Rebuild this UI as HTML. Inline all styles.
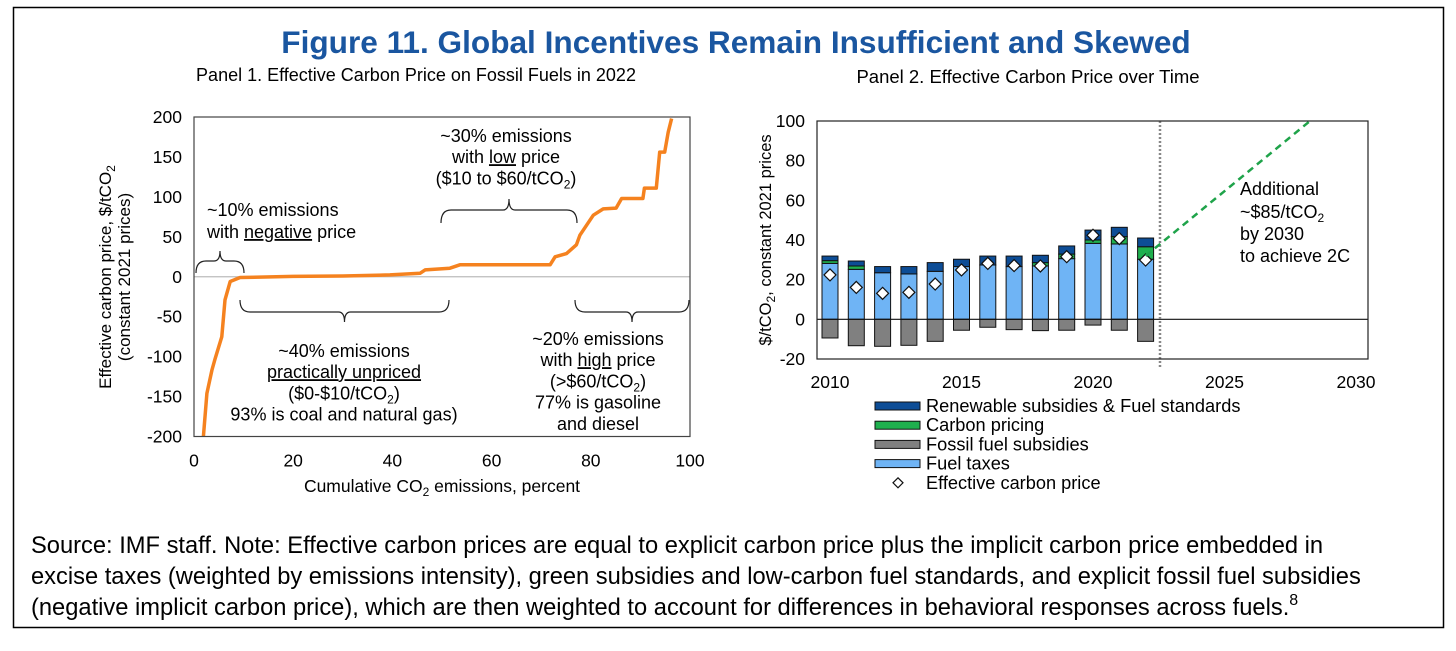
<!DOCTYPE html>
<html><head><meta charset="utf-8"><style>
body{margin:0;background:#fff;}
svg text{font-family:"Liberation Sans",Arial,sans-serif;}
</style></head><body>
<svg width="1456" height="646" viewBox="0 0 1456 646" xmlns="http://www.w3.org/2000/svg">
<rect x="13.5" y="7.5" width="1430" height="620" fill="none" stroke="#000" stroke-width="1.5"/>
<text x="736" y="53" text-anchor="middle" font-size="31.6" font-weight="bold" fill="#1a56a0">Figure 11. Global Incentives Remain Insufficient and Skewed</text>
<text x="416" y="81" text-anchor="middle" font-size="18">Panel 1. Effective Carbon Price on Fossil Fuels in 2022</text>
<text x="1028" y="83" text-anchor="middle" font-size="18.5">Panel 2. Effective Carbon Price over Time</text>
<g id="p1"></g>
<g id="p2"></g>
<g font-size="23.7">
<text x="31" y="553">Source: IMF staff. Note: Effective carbon prices are equal to explicit carbon price plus the implicit carbon price embedded in</text>
<text x="31" y="584">excise taxes (weighted by emissions intensity), green subsidies and low-carbon fuel standards, and explicit fossil fuel subsidies</text>
<text x="31" y="615">(negative implicit carbon price), which are then weighted to account for differences in behavioral responses across fuels.<tspan font-size="16" dy="-10">8</tspan></text>
</g>
</svg>
<script>
const NS="http://www.w3.org/2000/svg";
function mk(tag,attrs,parent,txt){const e=document.createElementNS(NS,tag);for(const k in attrs)e.setAttribute(k,attrs[k]);if(txt!==undefined)e.textContent=txt;parent.appendChild(e);return e;}

// Panel 1 data
const p1X=[1.9,2.6,3.6,4.2,5.6,6.25,7.3,9.3,20,30,39.5,45.6,46.6,51.6,53.6,71.8,72.8,75.1,77.1,77.8,80.5,82.5,85.1,86.2,90.5,90.8,93.2,93.9,94.9,95.6,96.3];
const p1Y=[-200,-146,-117,-104,-75,-29,-6,-1,0.5,1,2.3,4.5,8.6,10.7,15,15,25,29,40,52,77,85,86,98,98,111,111,156,156,181,198];
const p1XTicks=[0,20,40,60,80,100];
const p1YTicks=[200,150,100,50,0,-50,-100,-150,-200];

// Panel 2 data
const years=[2010,2011,2012,2013,2014,2015,2016,2017,2018,2019,2020,2021,2022];
const fuelTaxes=[28.2,25.2,23.5,22.9,24.2,26.6,27.4,26.6,26.9,30.6,38.3,38,30.3];
const carbonPricing=[1.4,1.7,0,0,0,0,0,0,1.7,2.3,1.7,3.7,6.3];
const renewables=[2.3,2.5,3.1,3.7,4.4,3.7,4.5,5.3,3.7,4.1,5,4.7,4.4];
const fossilSubs=[-9.4,-13.3,-13.6,-13.1,-11.1,-5.5,-4,-5.2,-5.7,-5.5,-2.9,-5.5,-11.1];
const effective=[22.4,16.1,13.1,13.6,17.8,24.9,28.2,27.1,26.9,31.6,42.4,40.7,29.9];
const p2YTicks=[100,80,60,40,20,0,-20];
const p2XTicks=[2010,2015,2020,2025,2030];
const targetYears=[2022,2028.25];
const targetVals=[32,100];

// Panel 1
const g1=document.getElementById('p1');
const L1=194,R1=690,T1=117,B1=436.5;
const x1=v=>L1+(v-0)/100*(R1-L1);
const y1=v=>B1-(v+200)/400*(B1-T1);
const zl1=mk('line',{x1:L1,x2:R1,y1:y1(0),y2:y1(0),stroke:'#bbb','stroke-width':1.2},g1);


let d='';p1X.forEach((v,i)=>{d+=(i?'L':'M')+x1(v).toFixed(1)+','+y1(p1Y[i]).toFixed(1);});
const cur=mk('path',{d:d,fill:'none',stroke:'#f5821f','stroke-width':3.5,'stroke-linejoin':'round'},g1);


const fr1=mk('rect',{x:L1,y:T1,width:R1-L1,height:B1-T1,fill:'none',stroke:'#444','stroke-width':1.2},g1);


p1YTicks.forEach(v=>{const t=mk('text',{x:L1-12,y:y1(v)+6,'text-anchor':'end','font-size':17.5},g1,v);

});
p1XTicks.forEach(v=>{const t=mk('text',{x:x1(v),y:B1+30,'text-anchor':'middle','font-size':17.5},g1,v);

});
const xt1=mk('text',{x:442,y:492,'text-anchor':'middle','font-size':17.5},g1);


xt1.innerHTML='Cumulative CO<tspan font-size="12" dy="4">2</tspan><tspan dy="-4"> emissions, percent</tspan>';
const yt1=mk('text',{transform:'translate(111,277) rotate(-90)','text-anchor':'middle','font-size':17},g1);


yt1.innerHTML='<tspan x="0" dy="0">Effective carbon price, $/tCO<tspan font-size="12" dy="4">2</tspan></tspan><tspan x="0" dy="15">(constant 2021 prices)</tspan>';
function ann(lines,x,y,name){const t=mk('text',{'text-anchor':'middle','font-size':18},g1);


t.innerHTML=lines.map((l,i)=>`<tspan x="${x}" y="${y+i*21.2}">${l}</tspan>`).join('');}
const sub='<tspan font-size="12" dy="4">2</tspan><tspan dy="-4">)</tspan>';
ann(['~30% emissions','with <tspan text-decoration="underline">low</tspan> price','($10 to $60/tCO'+sub],506,142,'low-price-annotation');
const a2=mk('text',{'text-anchor':'start','font-size':18},g1);


a2.innerHTML='<tspan x="207" y="216">~10% emissions</tspan><tspan x="207" y="238">with <tspan text-decoration="underline">negative</tspan> price</tspan>';
ann(['~40% emissions','<tspan text-decoration="underline">practically unpriced</tspan>','($0-$10/tCO'+sub,'93% is coal and natural gas)'],344,357,'unpriced-annotation');
ann(['~20% emissions','with <tspan text-decoration="underline">high</tspan> price','(&gt;$60/tCO'+sub,'77% is gasoline','and diesel'],598,345,'high-price-annotation');
function brace(xa,xb,y,up,name,hh){const m=(xa+xb)/2,h=up?-1:1,k=hh||10;
const p=mk('path',{d:`M${xa},${y}q0,${h*k} 10,${h*k}H${m-6}q6,0 6,${h*(k-2)}q0,${-h*(k-2)} 6,${-h*(k-2)}H${xb-10}q10,0 10,${-h*k}`,fill:'none',stroke:'#222','stroke-width':1.2},g1);

}
brace(196,244,273,true,'negative-brace',12);
brace(441,577,223,true,'low-price-brace',13);
brace(240,449,300,false,'unpriced-brace',12);
brace(575,689,300,false,'high-price-brace',12);

// Panel 2
const g2=document.getElementById('p2');
const L2=817,R2=1368,T2=121,B2=359;
const x2=v=>830+(v-2010)*26.3;
const y2=v=>B2-(v+20)/120*(B2-T2);
const bw=16;
years.forEach((yr,i)=>{const cx=x2(yr);
const segs=[[0,fuelTaxes[i],'#6fb4f5','fuel-taxes-bar'],[fuelTaxes[i],fuelTaxes[i]+carbonPricing[i],'#1fb04e','carbon-pricing-bar'],[fuelTaxes[i]+carbonPricing[i],fuelTaxes[i]+carbonPricing[i]+renewables[i],'#0d4d96','renewables-bar'],[fossilSubs[i],0,'#808080','fossil-subsidies-bar']];
segs.forEach(s=>{if(s[1]-s[0]<=0)return;const r=mk('rect',{x:cx-bw/2,y:y2(s[1]),width:bw,height:y2(s[0])-y2(s[1]),fill:s[2],stroke:'#111','stroke-width':1},g2);

});
const e=effective[i],yy=y2(e);
const dm=mk('path',{d:`M${cx},${yy-6}L${cx+6},${yy}L${cx},${yy+6}L${cx-6},${yy}Z`,fill:'#fff',stroke:'#111','stroke-width':1.2},g2);

});
const zl=mk('line',{x1:L2,x2:R2,y1:y2(0),y2:y2(0),stroke:'#111','stroke-width':1.2},g2);


const vl=mk('line',{x1:1160,x2:1160,y1:T2,y2:B2+8,stroke:'#888','stroke-width':2.5,'stroke-dasharray':'2,2'},g2);


const tl=mk('line',{x1:x2(targetYears[0]),y1:y2(targetVals[0]),x2:x2(targetYears[1]),y2:y2(targetVals[1]),stroke:'#1fa34a','stroke-width':2.5,'stroke-dasharray':'7,5'},g2);


const fr2=mk('rect',{x:L2,y:T2,width:R2-L2,height:B2-T2,fill:'none',stroke:'#222','stroke-width':1.2},g2);


p2YTicks.forEach(v=>{const t=mk('text',{x:L2-12,y:y2(v)+6,'text-anchor':'end','font-size':17.5},g2,v);

});
p2XTicks.forEach(v=>{const t=mk('text',{x:x2(v),y:B2+29,'text-anchor':'middle','font-size':17.5},g2,v);

});
const yt2=mk('text',{transform:'translate(771,240) rotate(-90)','text-anchor':'middle','font-size':16.5},g2);


yt2.innerHTML='$/tCO<tspan font-size="12" dy="4">2</tspan><tspan dy="-4">, constant 2021 prices</tspan>';
const at=mk('text',{'font-size':18},g2);


at.innerHTML='<tspan x="1240" y="195">Additional</tspan><tspan x="1240" y="218">~$85/tCO<tspan font-size="12" dy="4">2</tspan></tspan><tspan x="1240" y="240">by 2030</tspan><tspan x="1240" y="262">to achieve 2C</tspan>';
const leg=[['#0d4d96','Renewable subsidies &amp; Fuel standards'],['#1fb04e','Carbon pricing'],['#808080','Fossil fuel subsidies'],['#6fb4f5','Fuel taxes'],[null,'Effective carbon price']];
leg.forEach((l,i)=>{const cy=406+i*19.2;
if(l[0]){const r=mk('rect',{x:875,y:cy-4,width:45,height:8,fill:l[0],stroke:'#111','stroke-width':1},g2);

}
else{const p=mk('path',{d:`M898,${cy-5}L903,${cy}L898,${cy+5}L893,${cy}Z`,fill:'#fff',stroke:'#111','stroke-width':1.2},g2);

}
const t=mk('text',{x:926,y:cy+6,'font-size':18.2},g2);t.innerHTML=l[1];

});
</script>
</body></html>
